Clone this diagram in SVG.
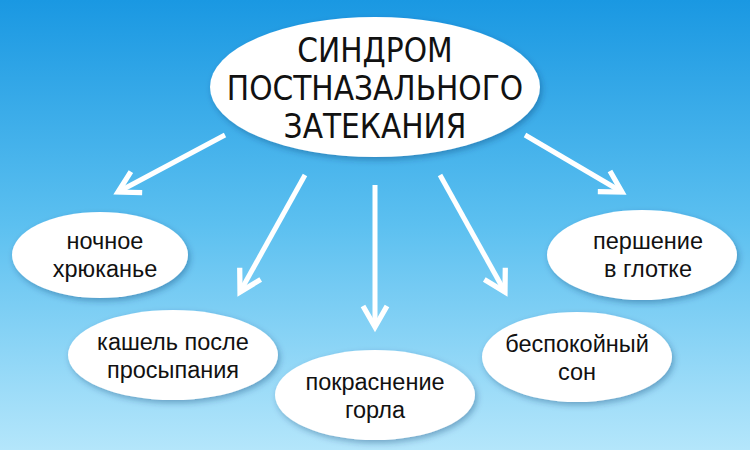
<svg xmlns="http://www.w3.org/2000/svg" width="750" height="450" viewBox="0 0 750 450">
<defs>
<linearGradient id="bg" x1="0" y1="0" x2="0" y2="1">
<stop offset="0" stop-color="#1a98e2"/><stop offset="0.5" stop-color="#5cc0f0"/><stop offset="1" stop-color="#b4e6fb"/>
</linearGradient>
<filter id="sh" x="-20%" y="-20%" width="140%" height="150%"><feDropShadow dx="2" dy="3" stdDeviation="3" flood-color="#003366" flood-opacity="0.35"/></filter>
<marker id="ah" viewBox="0 0 20 20" refX="16" refY="10" markerWidth="6" markerHeight="6" orient="auto" markerUnits="strokeWidth">
<polyline points="2,2 16,10 2,18" fill="none" stroke="#fff" stroke-width="3.5" stroke-linejoin="miter"/>
</marker>
</defs>
<style>
.n{fill:#fff;filter:url(#sh)}
.t{font-family:"Liberation Sans",Arial,sans-serif;font-size:23.5px;fill:#111;text-anchor:middle}
.h{font-family:"DejaVu Sans Condensed","Liberation Sans",sans-serif;font-size:33px;fill:#111;text-anchor:middle}
.c{stroke:#fff;stroke-width:5;fill:none;marker-end:url(#ah)}
</style>
<rect width="750" height="450" fill="url(#bg)"/>
<g id="connectors">
<line class="c" x1="225" y1="135" x2="118" y2="192"/>
<line class="c" x1="305" y1="175" x2="240" y2="292"/>
<line class="c" x1="375" y1="185" x2="375" y2="327"/>
<line class="c" x1="440" y1="175" x2="505" y2="292"/>
<line class="c" x1="525" y1="135" x2="622" y2="192"/>
</g>
<g id="center"><ellipse class="n" cx="375" cy="87" rx="165" ry="70"/>
<text class="h" x="375" y="62">СИНДРОМ</text><text class="h" x="375" y="100">ПОСТНАЗАЛЬНОГО</text><text class="h" x="375" y="138">ЗАТЕКАНИЯ</text></g>
<g id="n1"><ellipse class="n" cx="100" cy="255" rx="88" ry="43"/><text class="t" x="105" y="249">ночное</text><text class="t" x="105" y="277">хрюканье</text></g>
<g id="n2"><ellipse class="n" cx="173" cy="355" rx="105" ry="45"/><text class="t" x="173" y="350">кашель после</text><text class="t" x="173" y="378">просыпания</text></g>
<g id="n3"><ellipse class="n" cx="375" cy="395" rx="100" ry="45"/><text class="t" x="375" y="390">покраснение</text><text class="t" x="375" y="418">горла</text></g>
<g id="n4"><ellipse class="n" cx="577" cy="357" rx="95" ry="45"/><text class="t" x="577" y="352">беспокойный</text><text class="t" x="577" y="380">сон</text></g>
<g id="n5"><ellipse class="n" cx="642" cy="255" rx="95" ry="45"/><text class="t" x="648" y="249">першение</text><text class="t" x="648" y="277">в глотке</text></g>
</svg>
